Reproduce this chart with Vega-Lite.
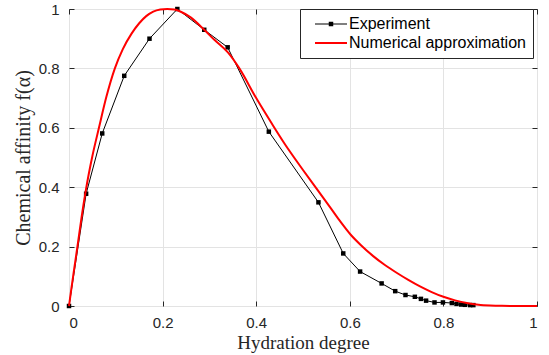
{
  "$schema": "https://vega.github.io/schema/vega-lite/v6.json",
  "width": 468,
  "height": 297,
  "autosize": {"type": "none"},
  "padding": {"left": 69, "top": 9, "right": 12, "bottom": 49},
  "background": "white",
  "config": {
    "view": {"stroke": "#262626", "strokeWidth": 1},
    "axis": {
      "labelFont": "Liberation Sans",
      "labelFontSize": 15,
      "labelColor": "#262626",
      "titleFont": "Liberation Serif",
      "titleFontSize": 20,
      "titleFontWeight": "normal",
      "titleColor": "#262626",
      "tickColor": "#262626",
      "tickSize": -5,
      "domain": false,
      "gridColor": "#e3e3e3",
      "gridWidth": 1
    }
  },
  "datasets": {
    "exp": [
      {"alpha": 0, "f": 0},
      {"alpha": 0.0366, "f": 0.378},
      {"alpha": 0.071, "f": 0.581},
      {"alpha": 0.118, "f": 0.775},
      {"alpha": 0.172, "f": 0.9},
      {"alpha": 0.2315, "f": 1.0},
      {"alpha": 0.289, "f": 0.93},
      {"alpha": 0.339, "f": 0.871},
      {"alpha": 0.427, "f": 0.587},
      {"alpha": 0.533, "f": 0.349},
      {"alpha": 0.586, "f": 0.177},
      {"alpha": 0.622, "f": 0.116},
      {"alpha": 0.668, "f": 0.076},
      {"alpha": 0.697, "f": 0.05},
      {"alpha": 0.719, "f": 0.037},
      {"alpha": 0.739, "f": 0.031},
      {"alpha": 0.752, "f": 0.024},
      {"alpha": 0.763, "f": 0.018},
      {"alpha": 0.781, "f": 0.012},
      {"alpha": 0.799, "f": 0.012},
      {"alpha": 0.818, "f": 0.01},
      {"alpha": 0.828, "f": 0.007},
      {"alpha": 0.838, "f": 0.005},
      {"alpha": 0.846, "f": 0.004},
      {"alpha": 0.857, "f": 0.003},
      {"alpha": 0.864, "f": 0.003}
    ],
    "fit": [
      {"alpha": 0, "f": 0},
      {"alpha": 0.005, "f": 0.058},
      {"alpha": 0.01, "f": 0.113},
      {"alpha": 0.018, "f": 0.2},
      {"alpha": 0.027, "f": 0.3},
      {"alpha": 0.036, "f": 0.39},
      {"alpha": 0.05, "f": 0.505},
      {"alpha": 0.064, "f": 0.6},
      {"alpha": 0.08, "f": 0.705},
      {"alpha": 0.098, "f": 0.8},
      {"alpha": 0.115, "f": 0.865},
      {"alpha": 0.134, "f": 0.918},
      {"alpha": 0.15, "f": 0.952},
      {"alpha": 0.165, "f": 0.976},
      {"alpha": 0.18, "f": 0.991},
      {"alpha": 0.195, "f": 0.998},
      {"alpha": 0.21, "f": 1.0},
      {"alpha": 0.225, "f": 0.998},
      {"alpha": 0.24, "f": 0.99},
      {"alpha": 0.26, "f": 0.972},
      {"alpha": 0.289, "f": 0.93},
      {"alpha": 0.31, "f": 0.897},
      {"alpha": 0.34, "f": 0.853},
      {"alpha": 0.364, "f": 0.8},
      {"alpha": 0.4, "f": 0.7},
      {"alpha": 0.433, "f": 0.615},
      {"alpha": 0.46, "f": 0.548},
      {"alpha": 0.5, "f": 0.458},
      {"alpha": 0.529, "f": 0.395},
      {"alpha": 0.56, "f": 0.328},
      {"alpha": 0.58, "f": 0.284},
      {"alpha": 0.602, "f": 0.24},
      {"alpha": 0.625, "f": 0.203},
      {"alpha": 0.65, "f": 0.168},
      {"alpha": 0.675, "f": 0.138},
      {"alpha": 0.7, "f": 0.112},
      {"alpha": 0.725, "f": 0.088},
      {"alpha": 0.75, "f": 0.066},
      {"alpha": 0.775, "f": 0.047},
      {"alpha": 0.8, "f": 0.031},
      {"alpha": 0.825, "f": 0.019},
      {"alpha": 0.85, "f": 0.01},
      {"alpha": 0.875, "f": 0.0045},
      {"alpha": 0.9, "f": 0.0018},
      {"alpha": 0.925, "f": 0.0005},
      {"alpha": 0.95, "f": 0.0001},
      {"alpha": 0.975, "f": 0},
      {"alpha": 1.0, "f": 0}
    ],
    "leg": [
      {"series": "Experiment", "alpha": 0, "f": 0},
      {"series": "Numerical approximation", "alpha": 0, "f": 0}
    ]
  },
  "resolve": {"axis": {"x": "independent", "y": "independent"}},
  "layer": [
    {
      "data": {"name": "exp"},
      "mark": {"type": "line", "color": "black", "strokeWidth": 1},
      "encoding": {
        "x": {
          "field": "alpha", "type": "quantitative",
          "scale": {"domain": [0, 1], "nice": false, "zero": false},
          "axis": {"orient": "bottom", "values": [0, 0.2, 0.4, 0.6, 0.8, 1], "format": "~g", "grid": true, "title": "Hydration degree", "titleFontSize": 19, "labelPadding": 14, "titlePadding": 3}
        },
        "y": {
          "field": "f", "type": "quantitative",
          "scale": {"domain": [0, 1], "nice": false, "zero": false},
          "axis": {"orient": "left", "values": [0, 0.2, 0.4, 0.6, 0.8, 1], "format": "~g", "grid": true, "title": "Chemical affinity f(α)", "labelPadding": 15, "titlePadding": 5}
        }
      }
    },
    {
      "data": {"name": "exp"},
      "mark": {"type": "point", "shape": "square", "filled": true, "color": "black", "size": 20, "opacity": 1},
      "encoding": {
        "x": {"field": "alpha", "type": "quantitative", "axis": null},
        "y": {"field": "f", "type": "quantitative", "axis": null}
      }
    },
    {
      "data": {"name": "fit"},
      "mark": {"type": "line", "color": "#ff0000", "strokeWidth": 2, "interpolate": "monotone"},
      "encoding": {
        "x": {"field": "alpha", "type": "quantitative",
          "axis": {"orient": "top", "values": [0, 0.2, 0.4, 0.6, 0.8, 1], "labels": false, "grid": false, "title": null}},
        "y": {"field": "f", "type": "quantitative",
          "axis": {"orient": "right", "values": [0, 0.2, 0.4, 0.6, 0.8, 1], "labels": false, "grid": false, "title": null}}
      }
    },
    {
      "data": {"name": "leg"},
      "mark": {"type": "point", "filled": true, "opacity": 0},
      "encoding": {
        "x": {"field": "alpha", "type": "quantitative", "axis": null},
        "y": {"field": "f", "type": "quantitative", "axis": null},
        "color": {
          "field": "series", "type": "nominal",
          "scale": {"domain": ["Experiment", "Numerical approximation"], "range": ["#000000", "#ff0000"]},
          "legend": {
            "title": null, "orient": "none", "legendX": 231, "legendY": 0,
            "padding": 7, "strokeColor": "#262626", "fillColor": "white",
            "symbolSize": 256, "symbolOpacity": 1, "symbolStrokeWidth": 0,
            "labelFont": "Liberation Sans", "labelFontSize": 16, "labelColor": "#000000",
            "labelOffset": 26, "rowPadding": 3, "labelLimit": 300
          }
        },
        "shape": {
          "field": "series", "type": "nominal",
          "scale": {"domain": ["Experiment", "Numerical approximation"], "range": ["M0,-0.0625H4V0.0625H0ZM1.72,-0.28H2.28V0.28H1.72Z", "M0,-0.125H4V0.125H0Z"]},
          "legend": {
            "title": null, "orient": "none", "legendX": 231, "legendY": 0,
            "padding": 7, "strokeColor": "#262626", "fillColor": "white",
            "symbolSize": 256, "symbolOpacity": 1, "symbolStrokeWidth": 0,
            "labelFont": "Liberation Sans", "labelFontSize": 16, "labelColor": "#000000",
            "labelOffset": 26, "rowPadding": 3, "labelLimit": 300
          }
        }
      }
    }
  ]
}
